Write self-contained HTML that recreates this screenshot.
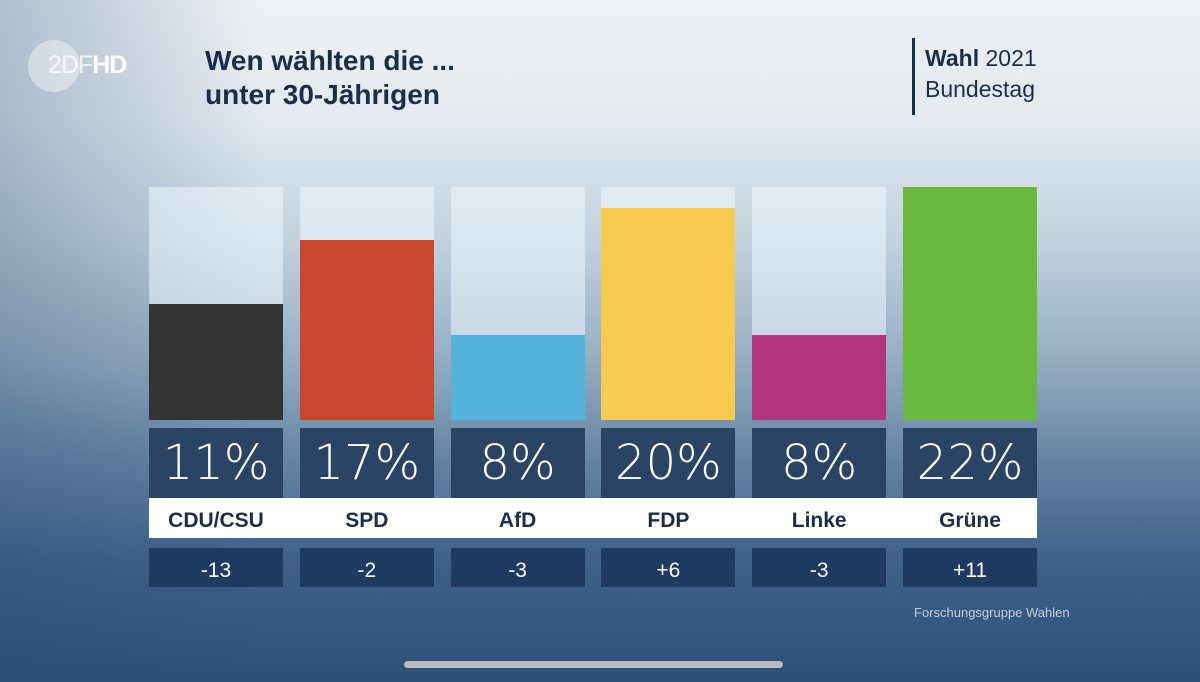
<!DOCTYPE html>
<html><head><meta charset="utf-8"><style>
html,body{margin:0;padding:0}
body{width:1200px;height:682px;overflow:hidden;position:relative;font-family:"Liberation Sans",sans-serif;
background:linear-gradient(180deg,#eef1f4 0%,#e2e8ed 18%,#c3d2de 35%,#97afc4 52%,#6283a3 68%,#3e6289 82%,#2d5079 100%);}
.shade{position:absolute;left:0;top:0;width:1200px;height:682px;background:linear-gradient(90deg,rgba(40,75,115,0.3) 0%,rgba(40,75,115,0) 22%,rgba(40,75,115,0) 100%)}
.abs{position:absolute}
</style></head><body>
<div class="shade"></div>
<div class="abs" style="left:28px;top:40px;width:52px;height:52px;border-radius:50%;background:rgba(255,255,255,0.4)"></div>
<div class="abs" style="left:48px;top:51px;color:rgba(255,255,255,0.75);font-size:25px;letter-spacing:-1px">2DF<b style="color:#fff">HD</b></div>
<div class="abs" style="left:205px;top:44px;color:#1b2d48;font-size:28px;font-weight:bold;line-height:34px">Wen wählten die ...<br>unter 30-Jährigen</div>
<div class="abs" style="left:912px;top:38px;width:3px;height:77px;background:#1b2d48"></div>
<div class="abs" style="left:925px;top:43px;color:#1b2d48;font-size:23px;line-height:31px"><b>Wahl</b> 2021<br>Bundestag</div>
<div class="abs" style="left:149px;top:498px;width:888px;height:40px;background:#fff"></div>
<div id="chart"></div>
<div class="abs" style="left:914px;top:605px;color:rgba(225,233,242,0.8);font-size:13px">Forschungsgruppe Wahlen</div>
<div class="abs" style="left:404px;top:661px;width:379px;height:7px;border-radius:4px;background:#b9bcc0"></div>
<script>
const parties=["CDU/CSU","SPD","AfD","FDP","Linke","Grüne"];
const shares=[11,17,8,20,8,22];
const changes=["-13","-2","-3","+6","-3","+11"];
const colors=["#333333","#c9462f","#55b4d9","#f5ca4e","#b0357e","#68b93e"];
const maxVal=22, bottom=420, areaH=233, x0=149, pitch=150.8, bw=134;
function yScale(v){return bottom-v/maxVal*areaH;}
const chart=document.getElementById('chart');
function mk(css){const d=document.createElement('div');d.className='abs';d.style.cssText=css;chart.appendChild(d);return d;}
parties.forEach((p,i)=>{
  const x=x0+i*pitch;
  const t=mk(`left:${x}px;top:${bottom-areaH}px;width:${bw}px;height:${areaH}px;background:rgba(240,245,250,0.55)`);
  
  
  const y=yScale(shares[i]);
  const b=mk(`left:${x}px;top:${y}px;width:${bw}px;height:${bottom-y}px;background:${colors[i]}`);
  
  
  const v=mk(`left:${x}px;top:428px;width:${bw}px;height:70px;background:#2a4466;color:#fff;font-family:'DejaVu Sans',sans-serif;font-weight:200;font-size:48px;line-height:70px;text-align:center`);
  v.textContent=shares[i]+'%';
  
  
  const n=mk(`left:${x}px;top:498px;width:${bw}px;height:40px;color:#1b2d48;font-size:21px;font-weight:bold;line-height:46px;text-align:center`);
  n.textContent=p;
  
  
  const c=mk(`left:${x}px;top:548px;width:${bw}px;height:39px;background:#1e3b61;color:#fff;font-size:21px;line-height:46px;text-align:center`);
  c.textContent=changes[i];
  
  
});
</script>
</body></html>
